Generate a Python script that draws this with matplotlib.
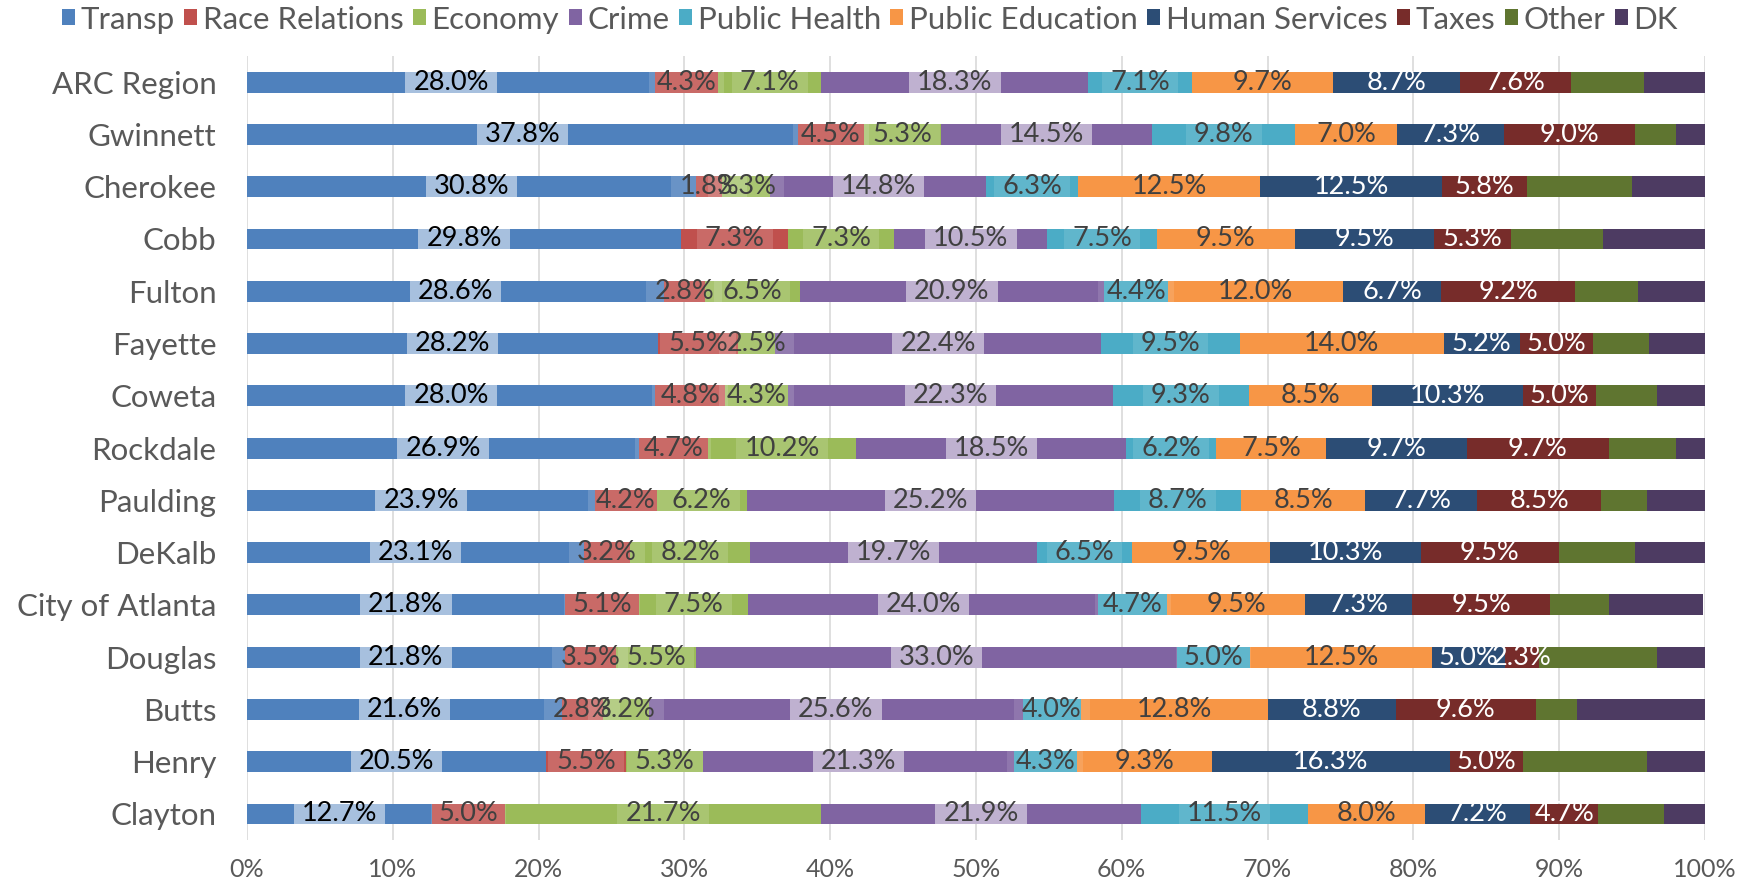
import numpy as np
import matplotlib.pyplot as plt

categories = ["ARC Region", "Gwinnett", "Cherokee", "Cobb", "Fulton", "Fayette", "Coweta",
              "Rockdale", "Paulding", "DeKalb", "City of Atlanta", "Douglas", "Butts",
              "Henry", "Clayton"]

transp = [28.0, 37.8, 30.8, 29.8, 28.6, 28.2, 28.0, 26.9, 23.9, 23.1, 21.8, 21.8, 21.6, 20.5, 12.7]
race = [4.3, 4.5, 1.8, 7.3, 2.8, 5.5, 4.8, 4.7, 4.2, 3.2, 5.1, 3.5, 2.8, 5.5, 5.0]
economy = [7.1, 5.3, 3.3, 7.3, 6.5, 2.5, 4.3, 10.2, 6.2, 8.2, 7.5, 5.5, 3.2, 5.3, 21.7]
crime = [18.3, 14.5, 14.8, 10.5, 20.9, 22.4, 22.3, 18.5, 25.2, 19.7, 24.0, 33.0, 25.6, 21.3, 21.9]
health = [7.1, 9.8, 6.3, 7.5, 4.4, 9.5, 9.3, 6.2, 8.7, 6.5, 4.7, 5.0, 4.0, 4.3, 11.5]
education = [9.7, 7.0, 12.5, 9.5, 12.0, 14.0, 8.5, 7.5, 8.5, 9.5, 9.5, 12.5, 12.8, 9.3, 8.0]
human = [8.7, 7.3, 12.5, 9.5, 6.7, 5.2, 10.3, 9.7, 7.7, 10.3, 7.3, 5.0, 8.8, 16.3, 7.2]
taxes = [7.6, 9.0, 5.8, 5.3, 9.2, 5.0, 5.0, 9.7, 8.5, 9.5, 9.5, 2.3, 9.6, 5.0, 4.7]
other = [5.0, 2.8, 7.2, 6.3, 4.3, 3.9, 4.2, 4.6, 3.1, 5.2, 4.0, 8.1, 2.8, 8.5, 4.5]
dk = [4.2, 2.0, 5.0, 7.0, 4.6, 3.8, 3.3, 2.0, 4.0, 4.8, 6.5, 3.3, 8.8, 4.0, 2.8]

names = ["Transp", "Race Relations", "Economy", "Crime", "Public Health",
         "Public Education", "Human Services", "Taxes", "Other", "DK"]
series = [transp, race, economy, crime, health, education, human, taxes, other, dk]
colors = ["#4F81BD", "#C0504D", "#9BBB59", "#8064A2", "#4BACC6",
          "#F79646", "#2C4D75", "#772C2A", "#5F7530", "#4D3B62"]
text_colors = ["black", "#404040", "#404040", "#404040", "#404040",
               "#404040", "white", "white", None, None]
box_alpha = [0.5, 0.15, 0.15, 0.5, 0.12, 0, 0, 0, 0, 0]

plt.rcParams["font.family"] = ["Lato", "DejaVu Sans"]

fig, ax = plt.subplots(figsize=(17.54, 8.89), dpi=100)
fig.subplots_adjust(left=0.1408, right=0.972, bottom=0.055, top=0.937)

y = np.arange(len(categories))
left = np.zeros(len(categories))
labels = []
for vals, name, col, tcol, a in zip(series, names, colors, text_colors, box_alpha):
    vals = np.array(vals)
    ax.barh(y, vals, left=left, height=0.4, color=col, label=name, zorder=2)
    if tcol is not None:
        for yi, l, v in zip(y, left, vals):
            t = ax.text(l + v / 2, yi, f"{v:.1f}%", ha="center", va="center",
                        color=tcol, fontsize=19.5, zorder=4)
            labels.append((t, yi, a))
    left += vals

ax.set_xlim(0, 100)
ax.set_ylim(len(categories) - 0.5, -0.5)
ax.set_xticks(range(0, 101, 10))
ax.set_xticklabels([f"{v}%" for v in range(0, 101, 10)])
ax.set_yticks(y)
ax.set_yticklabels(categories)
ax.tick_params(axis="both", length=0, colors="#595959")
ax.tick_params(axis="x", labelsize=18, pad=13)
ax.tick_params(axis="y", labelsize=22.5, pad=22)
ax.xaxis.grid(True, color="#d9d9d9", linewidth=1.2, zorder=0)
ax.set_axisbelow(True)
for s in ax.spines.values():
    s.set_visible(False)

# light boxes behind the labels, as tall as the bars
fig.canvas.draw()
renderer = fig.canvas.get_renderer()
inv = ax.transData.inverted()
for t, yi, a in labels:
    if a <= 0:
        continue
    bb = t.get_window_extent(renderer)
    x0 = inv.transform((bb.x0 - 8, 0))[0]
    x1 = inv.transform((bb.x1 + 8, 0))[0]
    ax.barh(yi, x1 - x0, left=x0, height=0.4, color=(1, 1, 1, a), zorder=3)

fig.legend(ncol=10, loc="center", bbox_to_anchor=(0.4958, 0.978), frameon=False,
           fontsize=22.5, handlelength=0.42, handleheight=0.42, handletextpad=0.18,
           columnspacing=0.3, borderaxespad=0, labelcolor="#595959")

fig.savefig("out.png", dpi=100)
